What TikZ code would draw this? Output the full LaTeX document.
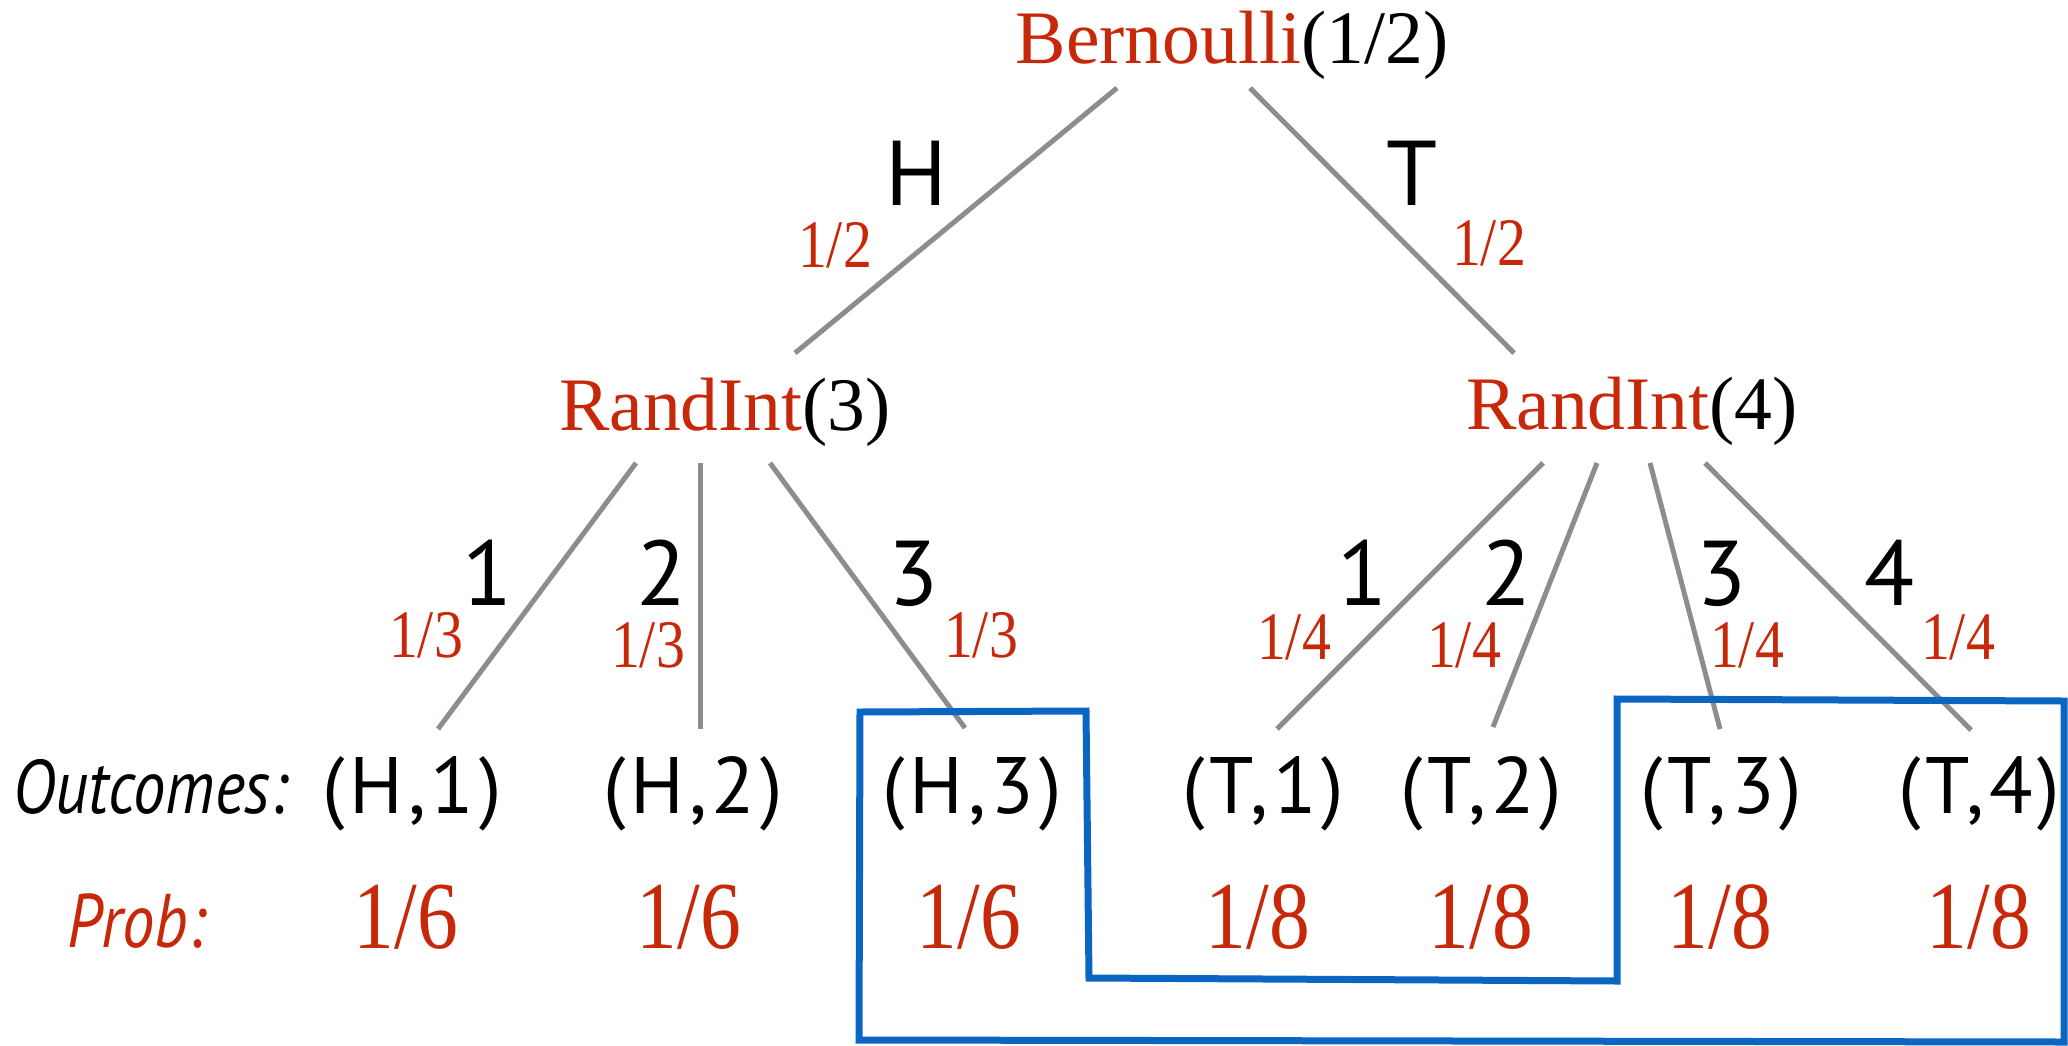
\documentclass[tikz,border=0pt]{standalone}
\usepackage{fontspec}
\setmainfont{Liberation Serif}
\newfontfamily\fracf{Liberation Serif}[FakeStretch=0.85]
\newfontfamily\labf{PT Sans}
\newfontfamily\outf{PT Sans}[LetterSpace=6]
\newfontfamily\itf{PT Sans}[FakeStretch=0.85]
\definecolor{rd}{HTML}{C8280A}
\definecolor{lgray}{HTML}{8A8D91}
\definecolor{bl}{HTML}{0A66C2}
\begin{document}
\begin{tikzpicture}[x=0.5pt,y=-0.5pt,
  every node/.style={inner sep=0pt,outer sep=0pt},
  dist/.style={anchor=base,font=\fontsize{37.8}{40}\selectfont},
  brlab/.style={anchor=base,font=\labf\fontsize{46}{48}\selectfont},
  prlab/.style={anchor=base,text=rd,font=\fracf\fontsize{34}{36}\selectfont},
  outc/.style={anchor=base,font=\outf\fontsize{40}{42}\selectfont},
  probv/.style={anchor=base,text=rd,font=\fracf\fontsize{48}{50}\selectfont},
  rowlab/.style={anchor=base west,font=\itf\itshape\fontsize{38}{40}\selectfont},
  edge/.style={draw=lgray,line width=2.5pt},
  setbox/.style={draw=bl,line width=3.5pt,line join=miter}]
\useasboundingbox (0,0) rectangle (2068,1045);

% distribution nodes
\node[dist] (bern) at (1232,63) {\textcolor{rd}{Bernoulli}(1/2)};
\node[dist] (ri3) at (725,430) {\textcolor{rd}{RandInt}(3)};
\node[dist] (ri4) at (1632,429) {\textcolor{rd}{RandInt}(4)};

% connector end points
\coordinate (bL) at (1117,88);
\coordinate (bR) at (1250,88);
\coordinate (r3T) at (795,353);
\coordinate (r4T) at (1514,353);
\coordinate (r3a) at (636,463);
\coordinate (r3b) at (700,463);
\coordinate (r3c) at (770,463);
\coordinate (r4a) at (1543,463);
\coordinate (r4b) at (1597,463);
\coordinate (r4c) at (1650,463);
\coordinate (r4d) at (1705,463);
\coordinate (h1T) at (438,729);
\coordinate (h2T) at (700,729);
\coordinate (h3T) at (965,728);
\coordinate (t1T) at (1277,729);
\coordinate (t2T) at (1493,727);
\coordinate (t3T) at (1720,729);
\coordinate (t4T) at (1971,730);

% edges
\draw[edge] (bL) -- (r3T);
\draw[edge] (bR) -- (r4T);
\draw[edge] (r3a) -- (h1T);
\draw[edge] (r3b) -- (h2T);
\draw[edge] (r3c) -- (h3T);
\draw[edge] (r4a) -- (t1T);
\draw[edge] (r4b) -- (t2T);
\draw[edge] (r4c) -- (t3T);
\draw[edge] (r4d) -- (t4T);

% branch labels
\node[brlab] (lH) at (916,205) {H};
\node[brlab] (lT) at (1412,205) {T};
\node[prlab] (pH) at (835,267) {1/2};
\node[prlab] (pT) at (1489,265) {1/2};

\node[brlab] (l31) at (488,605) {1};
\node[brlab] (l32) at (662,605) {2};
\node[brlab] (l33) at (914,605) {3};
\node[prlab] (p31) at (426,657) {1/3};
\node[prlab] (p32) at (648,667) {1/3};
\node[prlab] (p33) at (981,657) {1/3};

\node[brlab] (l41) at (1363,605) {1};
\node[brlab] (l42) at (1507,605) {2};
\node[brlab] (l43) at (1722,605) {3};
\node[brlab] (l44) at (1890,605) {4};
\node[prlab] (p41) at (1294,659) {1/4};
\node[prlab] (p42) at (1464,667) {1/4};
\node[prlab] (p43) at (1747,667) {1/4};
\node[prlab] (p44) at (1958,659) {1/4};

% outcomes row
\node[rowlab] (outl) at (13,813) {Outcomes:};
\node[outc] (h1) at (412,813) {(H,1)};
\node[outc] (h2) at (693,813) {(H,2)};
\node[outc] (h3) at (972,813) {(H,3)};
\node[outc] (t1) at (1263,813) {(T,1)};
\node[outc] (t2) at (1481,813) {(T,2)};
\node[outc] (t3) at (1721,813) {(T,3)};
\node[outc] (t4) at (1979,813) {(T,4)};

% probability row
\node[rowlab,text=rd] (probl) at (67,947) {Prob:};
\node[probv] (q1) at (406,948) {1/6};
\node[probv] (q2) at (689,948) {1/6};
\node[probv] (q3) at (969,948) {1/6};
\node[probv] (q4) at (1258,948) {1/8};
\node[probv] (q5) at (1481,948) {1/8};
\node[probv] (q6) at (1720,948) {1/8};
\node[probv] (q7) at (1979,948) {1/8};

% event outline
\draw[setbox] (859,1040) -- (860,712) -- (1086,711) -- (1089,978)
  -- (1617,981) -- (1617,699) -- (2064,701) -- (2064,1042) -- cycle;
\end{tikzpicture}
\end{document}
